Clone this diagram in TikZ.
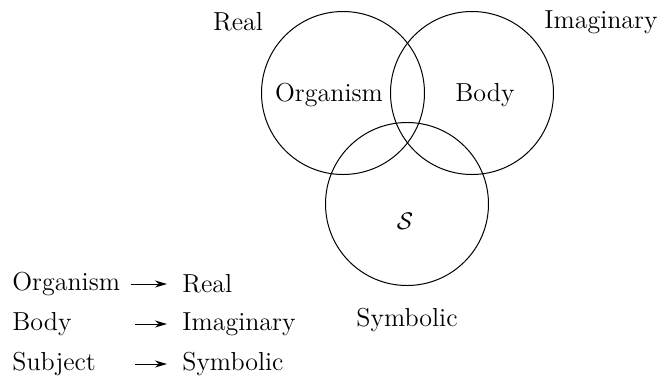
\documentclass[tikz,border=0pt]{standalone}
\usetikzlibrary{arrows.meta}
\tikzset{
    ring/.style={circle, draw, line width=0.5pt, minimum size=81.5pt, inner sep=0pt},
    word/.style={font=\fontsize{13}{15.5}\selectfont, inner sep=2pt},
    lhs/.style={word, anchor=west, text width=57pt, align=left},
    rhs/.style={word, anchor=west},
    maps/.style={-{Stealth[length=6pt, width=3.5pt]}, line width=0.5pt, shorten >=5.5pt}
}
\begin{document}
\begin{tikzpicture}[x=0.5pt, y=-0.5pt]
    \useasboundingbox (0,0) rectangle (661,377);
    \node[ring] (real) at (343,93) {};
    \node[ring] (imag) at (472,93) {};
    \node[ring] (symb) at (407,204) {};
    \node[word] (realname) at (238,22) {Real};
    \node[word] (imagname) at (601,22) {Imaginary};
    \node[word] (symbname) at (407,320) {Symbolic};
    \node[word] (organism) at (329,95) {Organism};
    \node[word] (body) at (485,95) {Body};
    \node[word] (subject) at (405,221) {$\mathcal{S}$};
    \node[lhs] (l1) at (8,284) {Organism};
    \node[lhs] (l2) at (8,324) {Body};
    \node[lhs] (l3) at (8,364) {Subject};
    \node[rhs] (r1) at (178,284) {Real};
    \node[rhs] (r2) at (178,324) {Imaginary};
    \node[rhs] (r3) at (178,364) {Symbolic};
    \path (l1) edge[maps] (r1);
    \path ([xshift=2pt]l2.east) edge[maps] (r2);
    \path ([xshift=2pt]l3.east) edge[maps] (r3);
\end{tikzpicture}
\end{document}
